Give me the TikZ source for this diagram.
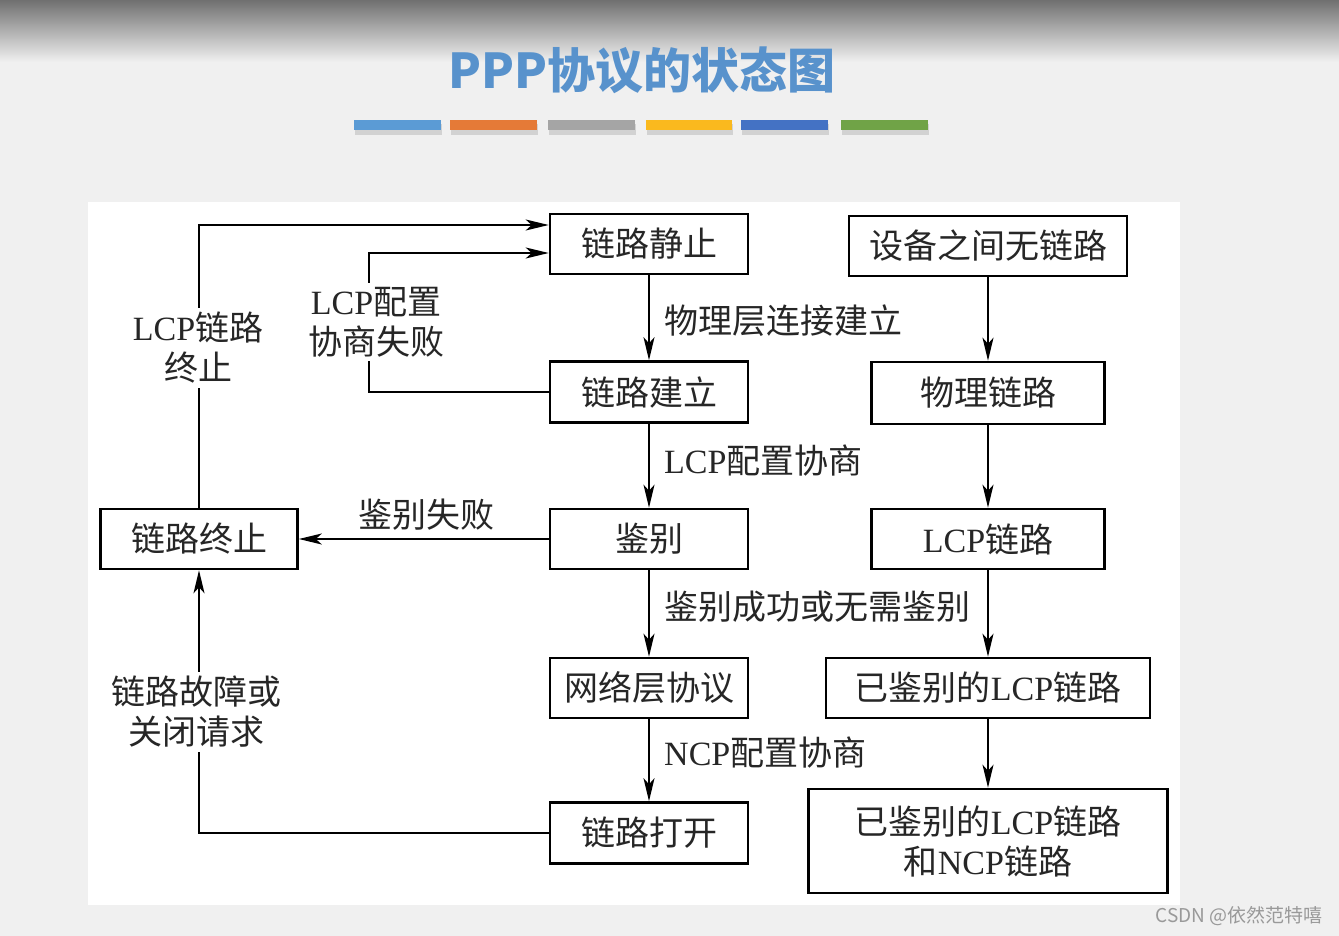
\documentclass[tikz,border=0pt]{standalone}
\usepackage{fontspec}
\setmainfont{Liberation Serif}
\newfontfamily\cjk{Noto Sans CJK SC}
\usetikzlibrary{arrows.meta}
\definecolor{ttl}{RGB}{88,146,204}
\definecolor{bgc}{RGB}{240,240,240}
\definecolor{barA}{RGB}{91,155,213}
\definecolor{barB}{RGB}{229,122,55}
\definecolor{barC}{RGB}{165,165,165}
\definecolor{barD}{RGB}{250,185,30}
\definecolor{barE}{RGB}{68,114,196}
\definecolor{barF}{RGB}{112,163,71}
\newcommand\latn[1]{{\rmfamily #1}}
\tikzset{
  box/.style={draw=black, line width=2.6pt, fill=white, inner sep=0pt, font=\fontsize{34}{40}\selectfont\cjk, text=black!85},
  lbl/.style={font=\fontsize{34}{40}\selectfont\cjk, inner sep=0pt, text=black!85},
  gaplbl/.style={lbl, fill=white, inner sep=4pt, align=center},
  arr/.style={line width=1.8pt, -{Stealth[length=23pt,width=11pt,inset=6pt]}}
}
\begin{document}
\begin{tikzpicture}[x=1pt,y=-1pt]
\useasboundingbox (0,0) rectangle (1339,936);
% background
\fill[bgc] (0,0) rectangle (1339,936);
\shade[top color={rgb,255:red,112;green,112;blue,112}, bottom color=bgc] (0,0) rectangle (1339,62);
\fill[white] (88,202) rectangle (1180,905);
% title
\node[font=\fontsize{48}{56}\selectfont\cjk\bfseries, text=ttl] (title) at (642,70) {PPP协议的状态图};
% bars with shadows
\foreach \a/\b/\c in {354/441/barA, 450/537/barB, 548/635/barC, 646/732/barD, 741/828/barE, 841/928/barF}{
  \fill[black, opacity=0.12] (\a+1,124) rectangle (\b+1,135);
  \fill[\c] (\a,120) rectangle (\b,130);
}
% boxes
\node[box, minimum width=198pt, minimum height=60pt] (quiet) at (649,244) {链路静止};
\node[box, minimum width=198pt, minimum height=61pt] (est) at (649,392) {链路建立};
\node[box, minimum width=198pt, minimum height=60pt] (auth) at (649,539) {鉴别};
\node[box, minimum width=198pt, minimum height=60pt] (net) at (649,688) {网络层协议};
\node[box, minimum width=198pt, minimum height=61pt] (open) at (649,833) {链路打开};
\node[box, minimum width=197pt, minimum height=60pt] (term) at (199,539) {链路终止};
\node[box, minimum width=278pt, minimum height=60pt] (none) at (988,246) {设备之间无链路};
\node[box, minimum width=233pt, minimum height=62pt] (phys) at (988,393) {物理链路};
\node[box, minimum width=233pt, minimum height=60pt] (lcp) at (988,539) {\latn{LCP}链路};
\node[box, minimum width=324pt, minimum height=60pt] (alcp) at (988,688) {已鉴别的\latn{LCP}链路};
\node[box, minimum width=359pt, minimum height=104pt, align=center] (full) at (988,841) {已鉴别的\latn{LCP}链路\\和\latn{NCP}链路};
% main column
\draw[arr] (quiet) -- (est);
\draw[arr] (est) -- (auth);
\draw[arr] (auth) -- (net);
\draw[arr] (net) -- (open);
% right column
\draw[arr] (none) -- (phys);
\draw[arr] (phys) -- (lcp);
\draw[arr] (lcp) -- (alcp);
\draw[arr] (alcp) -- (full);
% side connectors
\draw[arr] (auth.west) -- (term.east);
\draw[arr] (term.north) |- ([yshift=19pt]quiet.west);
\coordinate (cfail) at (369,253);
\draw[arr] (est.west) -| (cfail) -- ([yshift=-9pt]quiet.west);
\draw[arr] (open.west) -| (term.south);
% labels
\node[lbl, anchor=west] (l1) at (664,321) {物理层连接建立};
\node[lbl, anchor=west] (l2) at (664,461) {\latn{LCP}配置协商};
\node[lbl, anchor=west] (l3) at (664,607) {鉴别成功或无需鉴别};
\node[lbl, anchor=west] (l4) at (664,753) {\latn{NCP}配置协商};
\node[lbl] (l5) at (426,515) {鉴别失败};
\node[gaplbl] (l6) at (198,348) {\latn{LCP}链路\\终止};
\node[gaplbl] (l7) at (376,322) {\latn{LCP}配置\\协商失败};
\node[gaplbl] (l8) at (196,712) {链路故障或\\关闭请求};
% watermark
\node[font=\fontsize{19}{22}\selectfont\cjk, text=black!40, anchor=east, inner sep=0pt] (wm) at (1323,916) {CSDN @依然范特嘻};
\end{tikzpicture}
\end{document}
